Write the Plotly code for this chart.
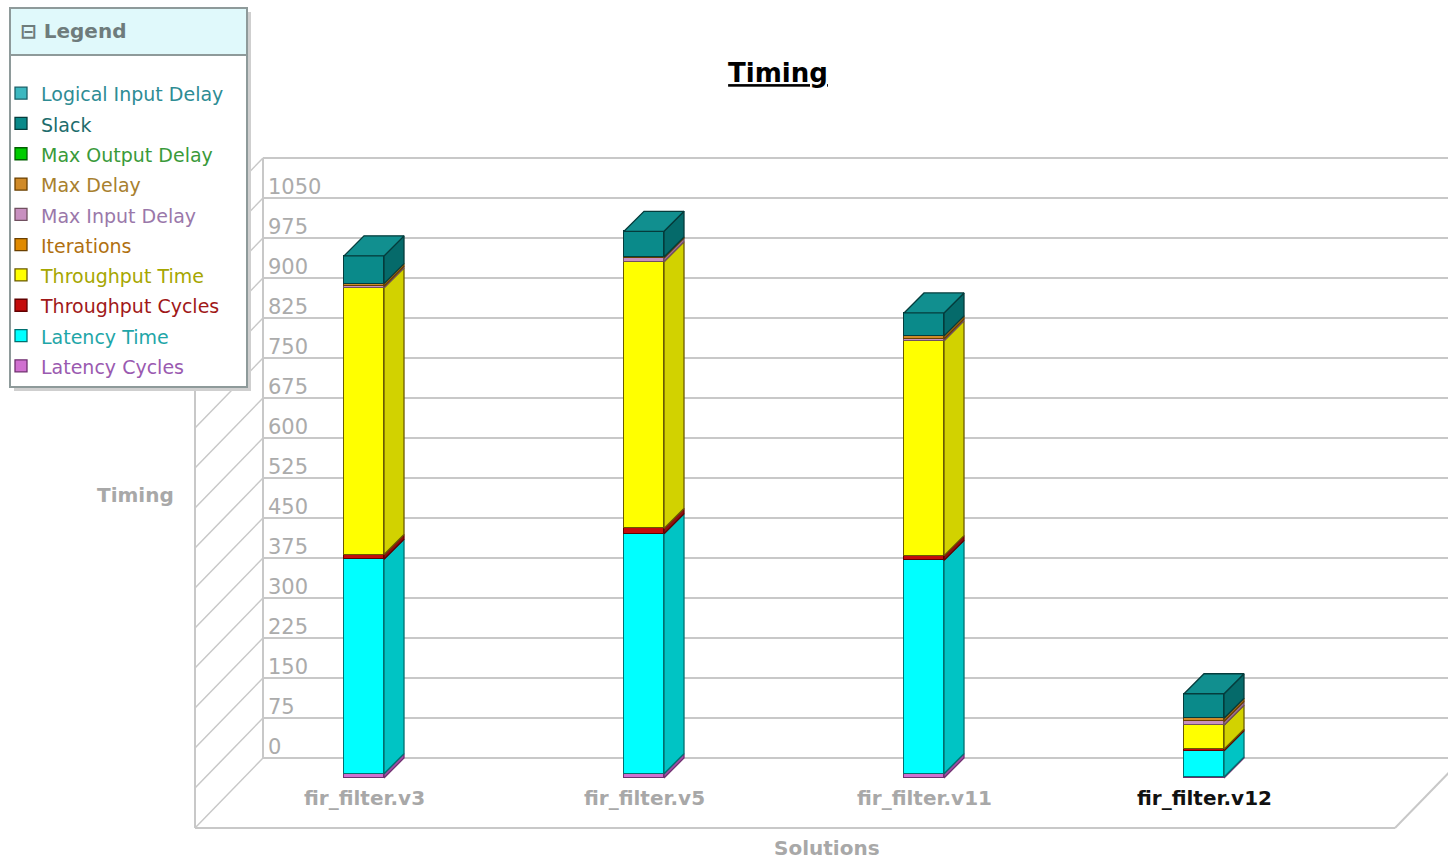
import plotly.graph_objects as go

# ---------------- data ----------------
categories = ["fir_filter.v3", "fir_filter.v5", "fir_filter.v11", "fir_filter.v12"]
selected_category = "fir_filter.v12"

series_names = ["Latency Cycles", "Latency Time", "Throughput Cycles", "Throughput Time",
                "Iterations", "Max Input Delay", "Max Delay", "Max Output Delay",
                "Slack", "Logical Input Delay"]
latency_cycles = [8, 8, 8, 2]
latency_time = [402, 450, 400, 49]
throughput_cycles = [9, 10, 9, 3]
throughput_time = [500, 500, 403, 45]
iterations = [0, 0, 0, 0]
max_input_delay = [3, 7, 3, 7]
max_delay = [5, 2, 6, 6]
max_output_delay = [0, 0, 0, 0]
slack = [52, 48, 43, 46]
logical_input_delay = [0, 0, 0, 0]

y_tick_values = [0, 75, 150, 225, 300, 375, 450, 525, 600, 675, 750, 825, 900, 975, 1050]
y_tick_labels = ["0", "75", "150", "225", "300", "375", "450", "525", "600", "675",
                 "750", "825", "900", "975", "1050"]
y_top = 1125

series_values = [latency_cycles, latency_time, throughput_cycles, throughput_time,
                 iterations, max_input_delay, max_delay, max_output_delay,
                 slack, logical_input_delay]

# ---------------- styles ----------------
front_colors = ["#D070D0", "#00FFFF", "#C40C0C", "#FFFF00", "#E08A00",
                "#C890C0", "#D08A28", "#00CC00", "#0A8A8A", "#3CB8C0"]
side_colors = ["#A050A8", "#00C4C4", "#901010", "#D2D200", "#B06C00",
               "#A07098", "#A86A18", "#009C00", "#056A6A", "#2A9098"]
top_colors = ["#E090E0", "#40FFFF", "#D83030", "#FFFF60", "#F0A020",
              "#D8A8D0", "#E0A040", "#30DD30", "#118F8F", "#50C8D0"]
edge_colors = ["#703070", "#007070", "#600000", "#6A5A00", "#6A4000",
               "#705060", "#6A4000", "#006000", "#053C3C", "#1A6068"]
legend_text_colors = ["#9A5AB0", "#1FA6A8", "#A01818", "#A6A600", "#B07010",
                      "#9A78AA", "#A8802E", "#3A9A3A", "#206C6C", "#2E8C94"]

FIG_W, FIG_H = 1448, 860
PLOT_L, PLOT_T, PLOT_B = 263, 158, 828
PX_PER_UNIT = 560 / 1050.0
CAT_X0, CAT_STEP = 364, 280           # pixel of first category (front face centre), spacing
BAR_W = 40 / CAT_STEP                 # bar width in category units
DEPTH_X = 20 / CAT_STEP               # bar depth (horizontal) in category units
DEPTH_Y = 20 / PX_PER_UNIT            # bar depth (vertical) in value units
FLOOR_DX, FLOOR_DY = 68, 70           # wall/floor depth in pixels
GRID = "#C8C8C8"
FONT = "DejaVu Sans"

back_zero_px = 758
y_bottom = -(PLOT_B - back_zero_px) / PX_PER_UNIT
y_range_back = [y_bottom, y_top]
y_range_front = [y_bottom + DEPTH_Y, y_top + DEPTH_Y]
x_range = [(PLOT_L - CAT_X0) / CAT_STEP, (FIG_W - CAT_X0) / CAT_STEP]


def px_x(px):
    return (px - PLOT_L) / (FIG_W - PLOT_L)


def px_y(py):
    return (PLOT_B - py) / (PLOT_B - PLOT_T)


def val_py(v):
    return back_zero_px - v * PX_PER_UNIT


x_idx = list(range(len(categories)))

fig = go.Figure()

# invisible trace so the back-wall value axis (y) gets drawn with its gridlines
fig.add_trace(go.Scatter(x=[x_idx[0]], y=[y_tick_values[0]], xaxis="x", yaxis="y",
                         mode="markers", marker=dict(opacity=0), showlegend=False,
                         hoverinfo="skip"))

# front faces (stacked bars on the front-plane axes)
for k, name in enumerate(series_names):
    vals = series_values[k]
    fig.add_trace(go.Bar(
        x=x_idx, y=[v if v else None for v in vals],
        width=BAR_W, xaxis="x", yaxis="y2",
        name='<span style="font-size:19px;color:%s">%s</span>' % (legend_text_colors[k], name),
        marker=dict(color=front_colors[k], line=dict(color=edge_colors[k], width=1.3)),
        customdata=[[c, name] for c in categories],
        hovertemplate="%{customdata[0]}<br>%{customdata[1]}: %{y}<extra></extra>",
    ))

# 3D side and top faces computed from the stacked values
cum = [0.0] * len(categories)
top_seg = [None] * len(categories)
for k, name in enumerate(series_names):
    vals = series_values[k]
    xs, ys = [], []
    for i in x_idx:
        v = vals[i]
        if v:
            a, b = cum[i], cum[i] + v
            xr = i + BAR_W / 2
            xs += [xr, xr + DEPTH_X, xr + DEPTH_X, xr, xr, None]
            ys += [a, a + DEPTH_Y, b + DEPTH_Y, b, a, None]
            cum[i] = b
            top_seg[i] = k
    if xs:
        fig.add_trace(go.Scatter(
            x=xs, y=ys, xaxis="x", yaxis="y2", mode="lines", fill="toself",
            fillcolor=side_colors[k], line=dict(color=edge_colors[k], width=1.3),
            showlegend=False, hoverinfo="skip"))

for i in x_idx:
    k = top_seg[i]
    T = cum[i]
    xl, xr = i - BAR_W / 2, i + BAR_W / 2
    fig.add_trace(go.Scatter(
        x=[xl, xl + DEPTH_X, xr + DEPTH_X, xr, xl],
        y=[T, T + DEPTH_Y, T + DEPTH_Y, T, T],
        xaxis="x", yaxis="y2", mode="lines", fill="toself",
        fillcolor=top_colors[k], line=dict(color=edge_colors[k], width=1.3),
        showlegend=False, hoverinfo="skip"))

# ---------------- decoration: walls / floor ----------------
shapes = []
wall_line = dict(color=GRID, width=2)
# back wall top edge and left edge
shapes.append(dict(type="line", xref="paper", yref="paper", layer="below",
                   x0=px_x(PLOT_L), y0=px_y(val_py(y_top)), x1=px_x(FIG_W), y1=px_y(val_py(y_top)),
                   line=wall_line))
shapes.append(dict(type="line", xref="paper", yref="paper", layer="below",
                   x0=px_x(PLOT_L), y0=px_y(val_py(y_top)), x1=px_x(PLOT_L), y1=px_y(val_py(0)),
                   line=wall_line))
# left wall diagonals and front edge
for v in y_tick_values + [y_top]:
    py = val_py(v)
    shapes.append(dict(type="line", xref="paper", yref="paper", layer="below",
                       x0=px_x(PLOT_L), y0=px_y(py), x1=px_x(PLOT_L - FLOOR_DX), y1=px_y(py + FLOOR_DY),
                       line=dict(color=GRID, width=1.5)))
shapes.append(dict(type="line", xref="paper", yref="paper", layer="below",
                   x0=px_x(PLOT_L - FLOOR_DX), y0=px_y(val_py(y_top) + FLOOR_DY),
                   x1=px_x(PLOT_L - FLOOR_DX), y1=px_y(val_py(0) + FLOOR_DY), line=wall_line))
# floor front edge and right diagonal
floor_right_back = FIG_W + 15
shapes.append(dict(type="line", xref="paper", yref="paper", layer="below",
                   x0=px_x(PLOT_L - FLOOR_DX), y0=px_y(val_py(0) + FLOOR_DY),
                   x1=px_x(floor_right_back - FLOOR_DX), y1=px_y(val_py(0) + FLOOR_DY), line=wall_line))
shapes.append(dict(type="line", xref="paper", yref="paper", layer="below",
                   x0=px_x(floor_right_back), y0=px_y(val_py(0)),
                   x1=px_x(floor_right_back - FLOOR_DX), y1=px_y(val_py(0) + FLOOR_DY), line=wall_line))

# legend panel
shapes.append(dict(type="rect", xref="paper", yref="paper", layer="above",
                   x0=px_x(14), y0=px_y(12), x1=px_x(251), y1=px_y(391),
                   fillcolor="#CFCFCF", line=dict(width=0)))
shapes.append(dict(type="rect", xref="paper", yref="paper", layer="above",
                   x0=px_x(10), y0=px_y(8), x1=px_x(247), y1=px_y(387),
                   fillcolor="white", line=dict(color="#8E9A9A", width=2)))
shapes.append(dict(type="rect", xref="paper", yref="paper", layer="above",
                   x0=px_x(11), y0=px_y(9), x1=px_x(246), y1=px_y(55),
                   fillcolor="#E0F9FB", line=dict(width=0)))
shapes.append(dict(type="line", xref="paper", yref="paper", layer="above",
                   x0=px_x(11), y0=px_y(55), x1=px_x(246), y1=px_y(55),
                   line=dict(color="#8E9A9A", width=2)))

# ---------------- annotations ----------------
annotations = []
for i, c in enumerate(categories):
    sel = c == selected_category
    annotations.append(dict(
        x=i, xref="x", y=px_y(798), yref="paper", text="<b>%s</b>" % c, showarrow=False,
        font=dict(family=FONT, size=20, color="#111111" if sel else "#A8A8A8"),
        xanchor="center", yanchor="middle"))
annotations.append(dict(x=px_x(135), y=px_y(495), xref="paper", yref="paper",
                        text="<b>Timing</b>", showarrow=False, xanchor="center", yanchor="middle",
                        font=dict(family=FONT, size=20, color="#A8A8A8")))
annotations.append(dict(x=px_x(827), y=px_y(848), xref="paper", yref="paper",
                        text="<b>Solutions</b>", showarrow=False, xanchor="center", yanchor="middle",
                        font=dict(family=FONT, size=20, color="#A8A8A8")))
annotations.append(dict(x=px_x(18), y=px_y(31), xref="paper", yref="paper",
                        text="<b>⊟ Legend</b>", showarrow=False, xanchor="left", yanchor="middle",
                        font=dict(family=FONT, size=20, color="#6E7C7C")))

fig.update_layout(
    width=FIG_W, height=FIG_H,
    margin=dict(l=PLOT_L, r=0, t=PLOT_T, b=FIG_H - PLOT_B, pad=0),
    paper_bgcolor="white", plot_bgcolor="rgba(0,0,0,0)",
    barmode="stack", bargap=0,
    title=dict(text="<b><u>Timing</u></b>", x=px_x(778), xref="paper", xanchor="center",
               y=1 - 73 / FIG_H, yref="container", yanchor="middle",
               font=dict(family=FONT, size=26, color="#000000")),
    xaxis=dict(range=x_range, visible=False, fixedrange=True),
    yaxis=dict(range=y_range_back, tickmode="array", tickvals=y_tick_values,
               ticktext=y_tick_labels, showgrid=True, gridcolor=GRID, gridwidth=2,
               zeroline=False, showline=False, ticks="", ticklabelposition="inside",
               ticklabelshift=-11, ticklabelstandoff=2,
               tickfont=dict(family=FONT, size=21, color="#ABABAB"), fixedrange=True),
    yaxis2=dict(range=y_range_front, overlaying="y", visible=False, fixedrange=True),
    legend=dict(x=px_x(1), y=px_y(73), xanchor="left", yanchor="top",
                bgcolor="rgba(0,0,0,0)", borderwidth=0, traceorder="reversed",
                font=dict(family=FONT, size=21, color="#333333"), itemclick=False,
                itemdoubleclick=False),
    shapes=shapes, annotations=annotations,
    showlegend=True,
)

fig.write_html("out.html")
